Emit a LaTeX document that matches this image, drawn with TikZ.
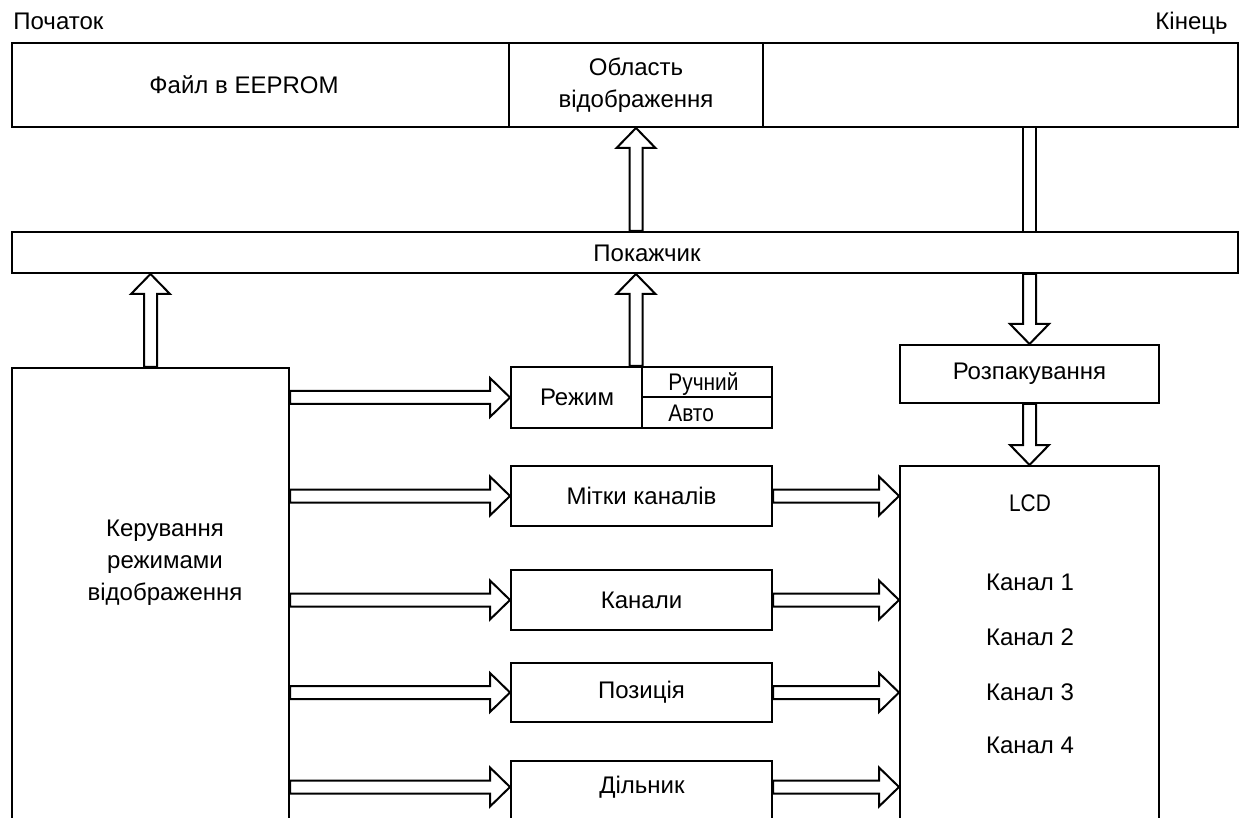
\documentclass[tikz,border=0pt]{standalone}
\usepackage{graphicx}
\usepackage{fontspec}
\setmainfont{Liberation Sans}
\usetikzlibrary{calc}
% narrow text (Ручний, Авто, LCD)
\newcommand\narrow[1]{\scalebox{0.87}[1]{#1}}
% hollow block arrow from #1 to #2
\newcommand\fatarrow[2]{%
  \draw[fat] let \p1=(#1), \p2=(#2), \n1={atan2(\y2-\y1,\x2-\x1)},
    \n2={veclen(\x2-\x1,\y2-\y1)} in
    {[shift={(\p1)},rotate=\n1] (0pt,3.25pt) -- (\n2-10pt,3.25pt) -- (\n2-10pt,9.75pt)
     -- (\n2,0pt) -- (\n2-10pt,-9.75pt) -- (\n2-10pt,-3.25pt) -- (0pt,-3.25pt) -- cycle};}
\begin{document}
\begin{tikzpicture}[x=.5pt,y=-.5pt,
  every node/.style={font=\fontsize{12}{16}\selectfont},
  box/.style={draw,line width=1pt,inner sep=0pt},
  fat/.style={line width=1pt,fill=white,line join=miter},
  pipe/.style={line width=1pt,double,double distance=5.7pt}]
\useasboundingbox (0,0) rectangle (1243,818);
\clip (0,0) rectangle (1243,818);
% memory
\node[anchor=base west,inner sep=0] (start) at (13,30) {Початок};
\node[anchor=base east,inner sep=0] (end) at (1228,30) {Кінець};
\node[box,minimum width=248.5pt,minimum height=42pt] (file) at (260.5,85) {};
\node (filetxt) at (244,85) {Файл в EEPROM};
\node[box,minimum width=127pt,minimum height=42pt,align=center] (area) at (636,85) {Область\\відображення};
\node[box,minimum width=237.5pt,minimum height=42pt] (rest) at (1000.5,85) {};
\node[box,minimum width=613pt,minimum height=20.5pt] (pointer) at (625,252.5) {};
\node (pointertxt) at (647,253) {Покажчик};
% control
\node[box,anchor=north,minimum width=138.5pt,minimum height=300pt] (ker) at (150.5,367) {};
\node[align=center] (kertxt) at (165,563) {Керування\\режимами\\відображення};
\node[box,minimum width=130.5pt,minimum height=30.5pt] (mode) at (641.5,397.5) {};
\draw[line width=1pt] (mode.north) -- (mode.south) (mode.center) -- (mode.east);
\node (modetxt) at (577,397) {Режим};
\node[anchor=base west,inner sep=0] (manual) at (668,391) {\narrow{Ручний}};
\node[anchor=base west,inner sep=0] (auto) at (668,422) {\narrow{Авто}};
\node[box,minimum width=130.5pt,minimum height=30pt] (labels) at (641.5,496) {Мітки каналів};
\node[box,minimum width=130.5pt,minimum height=30pt] (chan) at (641.5,600) {Канали};
\node[box,minimum width=130.5pt,minimum height=29.5pt] (pos) at (641.5,692.5) {Позиція};
\node[box,anchor=north,minimum width=130.5pt,minimum height=60pt] (div) at (641.5,760) {};
\node (divtxt) at (642,787) {Дільник};
\coordinate (divrow) at (0,787);
% display
\node[box,minimum width=129.5pt,minimum height=29pt] (unpack) at (1029.5,374) {Розпакування};
\node[box,anchor=north,minimum width=129.5pt,minimum height=200pt] (lcd) at (1029.5,465) {};
\node (lcdtxt) at (1030,503) {\narrow{LCD}};
\foreach \i/\y in {1/582,2/637,3/692,4/745}
  \node (ch\i) at (1030,\y) {Канал \i};
% arrows
\fatarrow{ker.north}{pointer.south -| ker.north}
\fatarrow{mode.north -| area.south}{pointer.south -| area.south}
\fatarrow{pointer.north -| area.south}{area.south}
\draw[pipe] (rest.south -| unpack.north) -- (pointer.north -| unpack.north);
\fatarrow{pointer.south -| unpack.north}{unpack.north}
\fatarrow{unpack.south}{lcd.north}
\foreach \b in {mode,labels,chan,pos}
  \fatarrow{ker.east |- \b.west}{\b.west};
\foreach \b in {labels,chan,pos}
  \fatarrow{\b.east}{lcd.west |- \b.east};
\fatarrow{ker.east |- divrow}{div.west |- divrow}
\fatarrow{div.east |- divrow}{lcd.west |- divrow}
\end{tikzpicture}
\end{document}
